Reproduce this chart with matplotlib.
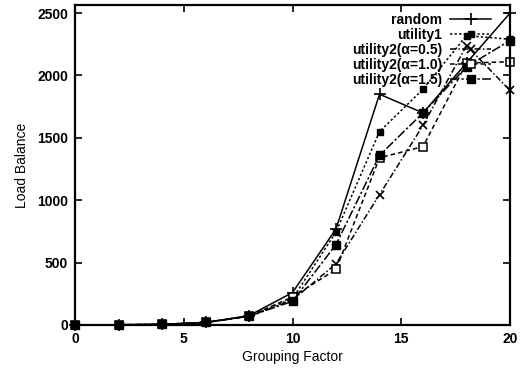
import matplotlib
matplotlib.use("Agg")
import matplotlib.pyplot as plt

plt.rcParams['font.family'] = ['Liberation Sans', 'DejaVu Sans']

grouping = [0, 2, 4, 6, 8, 10, 12, 14, 16, 18, 20]
random_lb = [0, 2, 5, 20, 75, 260, 770, 1850, 1700, 2100, 2500]
utility1 = [0, 2, 5, 22, 72, 210, 745, 1550, 1890, 2320, 2290]
util2_a05 = [0, 2, 5, 20, 70, 200, 490, 1045, 1600, 2240, 1880]
util2_a10 = [0, 2, 5, 20, 70, 225, 445, 1340, 1430, 2100, 2110]
util2_a15 = [0, 2, 5, 20, 70, 190, 645, 1360, 1700, 2070, 2280]
labels = ['random', 'utility1', 'utility2(\u03b1=0.5)', 'utility2(\u03b1=1.0)', 'utility2(\u03b1=1.5)']
xticks = [0, 5, 10, 15, 20]
yticks = [0, 500, 1000, 1500, 2000, 2500]

fig = plt.figure(figsize=(5.26, 3.73), dpi=100)
ax = fig.add_axes([0.1426, 0.1287, 0.9696 - 0.1426, 0.9866 - 0.1287])

series = [random_lb, utility1, util2_a05, util2_a10, util2_a15]
styles = [
    dict(ls='-', marker='+', ms=8, mew=1.2, mfc='black'),
    dict(ls=(0, (1.5, 1.5)), marker='s', ms=4.5, mfc='black'),
    dict(ls=(0, (4, 1.5, 1, 1.5)), marker='x', ms=6, mew=1.2, mfc='black'),
    dict(ls=(0, (3, 2)), marker='s', ms=5.5, mfc='white', mew=1.1),
    dict(ls=(0, (6, 1.5, 1.5, 1.5)), marker='s', ms=6, mfc='black'),
]
for ys, lab, st in zip(series, labels, styles):
    ax.plot(grouping, ys, color='black', lw=1.1, mec='black', label=lab, clip_on=False, **st)

ax.set_xlim(0, 20)
ax.set_ylim(0, 2565)
ax.set_xticks(xticks)
ax.set_yticks(yticks)
ax.tick_params(direction='in', top=True, right=True, length=5, width=1.2, labelsize=10, pad=5)
for lbl in ax.get_xticklabels() + ax.get_yticklabels():
    lbl.set_fontweight('bold')
for s in ax.spines.values():
    s.set_linewidth(1.6)

ax.set_xlabel('Grouping Factor', fontsize=10, labelpad=3)
ax.set_ylabel('Load Balance', fontsize=10, labelpad=6)

leg = ax.legend(loc='upper right', bbox_to_anchor=(0.962, 0.985), frameon=False,
                markerfirst=False, fontsize=10,
                handlelength=2.9, labelspacing=0.08, handletextpad=0.6,
                borderaxespad=0.0, borderpad=0.2)
for t in leg.get_texts():
    t.set_fontweight('bold')
for col in leg._legend_handle_box.get_children():
    col.align = 'right'

fig.savefig('out.png', dpi=100)
